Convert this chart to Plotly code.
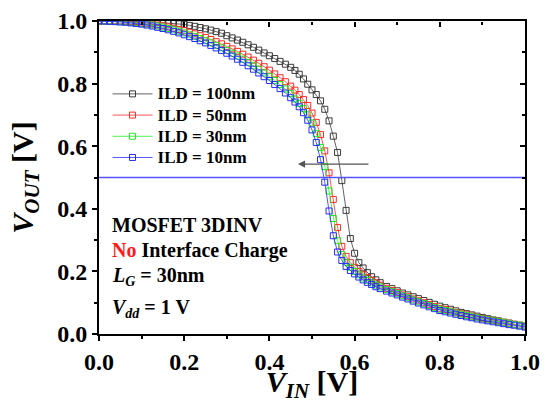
import plotly.graph_objects as go

# ---- data ----
vin = [0.0, 0.0125, 0.025, 0.0375, 0.05, 0.0625, 0.075, 0.0875, 0.1, 0.1125,
       0.125, 0.1375, 0.15, 0.1625, 0.175, 0.1875, 0.2, 0.2125, 0.225, 0.2375,
       0.25, 0.2625, 0.275, 0.2875, 0.3, 0.3125, 0.325, 0.3375, 0.35, 0.3625,
       0.375, 0.3875, 0.4, 0.4125, 0.425, 0.4375, 0.45,
       0.46, 0.47, 0.48, 0.49, 0.50, 0.51, 0.52, 0.53, 0.54, 0.55,
       0.56, 0.57, 0.58, 0.59, 0.60, 0.61, 0.62, 0.63, 0.64, 0.65, 0.66,
       0.675, 0.6875, 0.7, 0.7125, 0.725, 0.7375, 0.75, 0.7625, 0.775, 0.7875,
       0.8, 0.8125, 0.825, 0.8375, 0.85, 0.8625, 0.875, 0.8875, 0.9, 0.9125,
       0.925, 0.9375, 0.95, 0.9625, 0.975, 0.9875, 1.0]

vout_ild100 = [1.000, 1.000, 1.000, 1.000, 1.000, 1.000, 0.999, 0.999, 0.998, 0.998,
               0.997, 0.996, 0.995, 0.994, 0.993, 0.991, 0.989, 0.986, 0.983, 0.979,
               0.975, 0.971, 0.966, 0.961, 0.953, 0.946, 0.939, 0.932, 0.924, 0.916,
               0.907, 0.898, 0.889, 0.880, 0.871, 0.862, 0.852,
               0.842, 0.830, 0.815, 0.798, 0.780, 0.765, 0.745, 0.718, 0.681, 0.632,
               0.580, 0.490, 0.395, 0.305, 0.258, 0.228, 0.211, 0.196, 0.183, 0.173, 0.164,
               0.152, 0.145, 0.138, 0.131, 0.125, 0.119, 0.113, 0.107, 0.101, 0.095,
               0.089, 0.084, 0.079, 0.074, 0.069, 0.065, 0.061, 0.057, 0.053, 0.049,
               0.045, 0.042, 0.038, 0.035, 0.031, 0.028, 0.025]

vout_ild50 = [1.000, 1.000, 1.000, 1.000, 0.999, 0.998, 0.997, 0.996, 0.994, 0.992,
              0.990, 0.987, 0.984, 0.981, 0.977, 0.973, 0.969, 0.964, 0.959, 0.953,
              0.947, 0.941, 0.934, 0.927, 0.919, 0.911, 0.903, 0.894, 0.885, 0.875,
              0.865, 0.854, 0.843, 0.831, 0.819, 0.806, 0.792,
              0.779, 0.765, 0.749, 0.730, 0.706, 0.676, 0.637, 0.585, 0.515, 0.430,
              0.340, 0.280, 0.248, 0.228, 0.213, 0.200, 0.189, 0.180, 0.171, 0.163, 0.156,
              0.146, 0.139, 0.132, 0.125, 0.119, 0.112, 0.106, 0.100, 0.094, 0.088,
              0.082, 0.078, 0.073, 0.069, 0.065, 0.061, 0.057, 0.053, 0.050, 0.046,
              0.043, 0.040, 0.037, 0.034, 0.031, 0.028, 0.025]

vout_ild30 = [1.000, 1.000, 1.000, 0.999, 0.998, 0.997, 0.996, 0.994, 0.992, 0.990,
              0.987, 0.984, 0.980, 0.976, 0.972, 0.967, 0.962, 0.956, 0.950, 0.944,
              0.937, 0.930, 0.922, 0.914, 0.906, 0.897, 0.888, 0.878, 0.868, 0.857,
              0.846, 0.834, 0.822, 0.810, 0.797, 0.783, 0.768,
              0.751, 0.737, 0.720, 0.700, 0.674, 0.640, 0.596, 0.535, 0.457, 0.369,
              0.298, 0.254, 0.229, 0.213, 0.200, 0.189, 0.179, 0.171, 0.163, 0.156, 0.150,
              0.142, 0.135, 0.129, 0.122, 0.116, 0.109, 0.103, 0.097, 0.091, 0.085,
              0.079, 0.075, 0.071, 0.067, 0.063, 0.059, 0.055, 0.052, 0.048, 0.045,
              0.042, 0.039, 0.036, 0.033, 0.030, 0.028, 0.025]

vout_ild10 = [1.000, 1.000, 0.999, 0.998, 0.997, 0.996, 0.994, 0.992, 0.990, 0.987,
              0.984, 0.980, 0.976, 0.972, 0.967, 0.962, 0.956, 0.950, 0.944, 0.937,
              0.930, 0.922, 0.914, 0.906, 0.897, 0.888, 0.878, 0.868, 0.857, 0.846,
              0.834, 0.822, 0.810, 0.797, 0.784, 0.770, 0.755,
              0.741, 0.726, 0.707, 0.683, 0.652, 0.612, 0.557, 0.485, 0.393, 0.314,
              0.262, 0.235, 0.216, 0.203, 0.192, 0.182, 0.173, 0.165, 0.158, 0.151, 0.145,
              0.137, 0.131, 0.125, 0.118, 0.112, 0.105, 0.099, 0.093, 0.087, 0.081,
              0.075, 0.071, 0.067, 0.063, 0.059, 0.055, 0.052, 0.048, 0.045, 0.042,
              0.039, 0.036, 0.033, 0.030, 0.028, 0.025, 0.022]

series_names = ["ILD = 100nm", "ILD = 50nm", "ILD = 30nm", "ILD = 10nm"]
series_values = [vout_ild100, vout_ild50, vout_ild30, vout_ild10]
series_colors = ["#3a3a3a", "#ff2a2a", "#22ee22", "#2a2aff"]

tick_vals = [0.0, 0.2, 0.4, 0.6, 0.8, 1.0]
tick_text = ["0.0", "0.2", "0.4", "0.6", "0.8", "1.0"]

half_vdd = 0.5
arrow_y = 0.543
arrow_from_x = 0.636
arrow_to_x = 0.467

FONT = "Liberation Serif"

fig = go.Figure()
for name, vals, col in zip(series_names, series_values, series_colors):
    fig.add_trace(go.Scatter(
        x=vin, y=vals, mode="lines+markers",
        name=f"<span style='font-size:17px'><b>{name}</b></span>",
        line=dict(color=col, width=0.8),
        marker=dict(symbol="square-open", size=6, color=col, line=dict(width=1, color=col)),
    ))

# Vdd/2 reference line drawn as a trace through the data axes
fig.add_trace(go.Scatter(x=[0, 1], y=[half_vdd, half_vdd], mode="lines",
                         line=dict(color="#5555ff", width=1.4), showlegend=False,
                         hoverinfo="skip"))

# invisible trace that only carries the top/right tick axes
fig.add_trace(go.Scatter(x=[0, 1], y=[half_vdd, half_vdd], mode="lines",
                         line=dict(width=0), opacity=0, xaxis="x2", yaxis="y2",
                         showlegend=False, hoverinfo="skip"))

fig.add_annotation(x=arrow_to_x, y=arrow_y, ax=arrow_from_x, ay=arrow_y,
                   xref="x", yref="y", axref="x", ayref="y", text="",
                   showarrow=True, arrowhead=2, arrowsize=1.2, arrowwidth=1.2,
                   arrowcolor="#555555")

text_font = dict(family=FONT, size=20, color="black")
notes = [
    ("<b>MOSFET 3DINV</b>", 0.348),
    ("<b><span style='color:#ff1a1a'>No</span> Interface Charge</b>", 0.268),
    ("<b><i>L</i><sub><i>G</i></sub> = 30nm</b>", 0.183),
    ("<b><i>V</i><sub><i>dd</i></sub> = 1 V</b>", 0.083),
]
for txt, yy in notes:
    fig.add_annotation(x=0.026, y=yy, xref="paper", yref="paper", text=txt,
                       showarrow=False, xanchor="left", yanchor="middle", font=text_font)

axis_common = dict(
    range=[0, 1], linecolor="black", linewidth=2,
    showgrid=False, zeroline=False, automargin=False,
)

fig.update_layout(
    width=551, height=403,
    margin=dict(l=99, r=26, t=21, b=69),
    paper_bgcolor="white", plot_bgcolor="white",
    font=dict(family=FONT, color="black"),
    showlegend=True,
    legend=dict(x=0.02, y=0.817, xanchor="left", yanchor="top",
                bgcolor="rgba(0,0,0,0)", font=dict(family=FONT, size=14, color="black"),
                itemsizing="trace", itemwidth=40, tracegroupgap=0),
    xaxis=dict(**axis_common, showline=True, mirror=True, ticks="outside", ticklen=5,
               tickwidth=1.5, tickcolor="black",
               tickvals=tick_vals, ticktext=[f"<b>{t}</b>" for t in tick_text],
               tickfont=dict(family=FONT, size=24, color="black"),
               minor=dict(ticks="outside", dtick=0.1, ticklen=3, tickwidth=1.5, tickcolor="black"),
               title=dict(text="<b><i>V</i><sub><i>IN</i></sub> [V]</b>",
                          font=dict(family=FONT, size=30, color="black"))),
    yaxis=dict(**axis_common, showline=True, mirror=True, ticks="outside", ticklen=5,
               tickwidth=1.5, tickcolor="black",
               tickvals=tick_vals, ticktext=[f"<b>{t}</b>" for t in tick_text],
               tickfont=dict(family=FONT, size=24, color="black"),
               minor=dict(ticks="outside", dtick=0.1, ticklen=3, tickwidth=1.5, tickcolor="black"),
               title=dict(text="<b><i>V</i><sub><i>OUT</i></sub> [V]</b>",
                          font=dict(family=FONT, size=30, color="black"))),
    xaxis2=dict(**axis_common, showline=False, overlaying="x", side="top",
                anchor="free", position=1,
                ticks="inside", ticklen=5, tickwidth=1.5, tickcolor="black",
                tickvals=tick_vals, showticklabels=False,
                minor=dict(ticks="inside", dtick=0.1, ticklen=3, tickwidth=1.5, tickcolor="black")),
    yaxis2=dict(**axis_common, showline=False, overlaying="y", side="right",
                anchor="free", position=1,
                ticks="inside", ticklen=5, tickwidth=1.5, tickcolor="black",
                tickvals=tick_vals, showticklabels=False,
                minor=dict(ticks="inside", dtick=0.1, ticklen=3, tickwidth=1.5, tickcolor="black")),
)

fig.write_html("out.html", config={"displayModeBar": False},
               post_script="document.body.style.margin='0px';document.body.style.overflow='hidden';")
